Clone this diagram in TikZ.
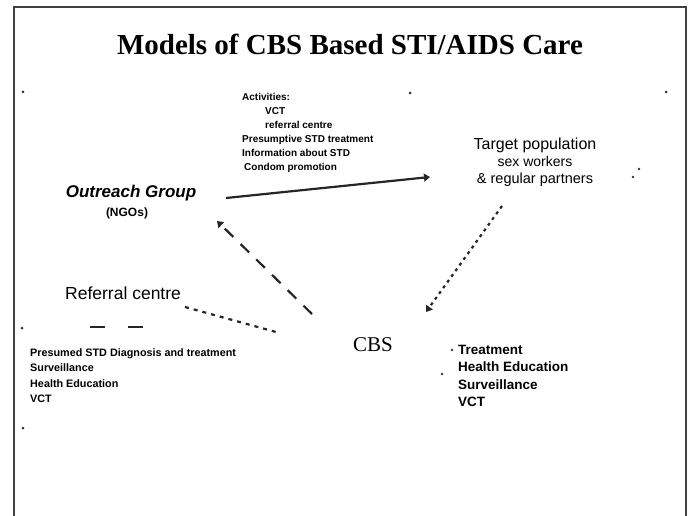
\documentclass[tikz,border=0pt]{standalone}
\usepackage{fontspec}
\setmainfont{Liberation Serif}
\setsansfont{Liberation Sans}
\usetikzlibrary{arrows.meta}
\begin{document}
\begin{tikzpicture}[x=1pt,y=-1pt,
  txt/.style={inner sep=0pt,anchor=base west,font=\sffamily},
  blk/.style={inner sep=0pt,anchor=north west,align=left,font=\sffamily\bfseries},
  conn/.style={line width=2.2pt,draw=black!85},
  tip/.style={-{Triangle[width=8pt,length=6pt]}},
  speck/.style={fill=black!80}]
\useasboundingbox (0,0) rectangle (689,516);
\draw[line width=1.8pt,black!75] (14,516) -- (14,7) -- (686,7) -- (686,516);
% title
\node[inner sep=0pt,anchor=base] (title) at (350,55)
  {\fontsize{29}{32}\selectfont\bfseries Models of CBS Based STI/AIDS Care};
% top activity block
\node[blk,font=\sffamily\bfseries\fontsize{10}{14}\selectfont] (acts) at (242,93)
  {Activities:\\
   \hspace{2.3em}VCT\\
   \hspace{2.3em}referral centre\\
   Presumptive STD treatment\\
   Information about STD\\
   \hspace{0.2em}Condom promotion};
% outreach group
\node[inner sep=0pt,anchor=base,font=\sffamily\bfseries\itshape\fontsize{17}{19}\selectfont] (outreach) at (131,198) {Outreach Group};
\node[inner sep=0pt,anchor=base,font=\sffamily\bfseries\fontsize{12}{14}\selectfont] (ngo) at (127,217) {(NGOs)};
% target population
\node[inner sep=0pt,anchor=north,align=center,font=\sffamily\fontsize{16}{17}\selectfont] (target) at (535,138)
  {Target population\\ \fontsize{14}{17}\selectfont sex workers\\ \fontsize{14.5}{17}\selectfont\& regular partners};
% referral centre
\node[txt,font=\sffamily\fontsize{17.5}{19}\selectfont] (referral) at (65,299) {Referral centre};
\coordinate (r1) at (90,327);
\coordinate (r2) at (145,327);
\draw[conn,dash pattern=on 15pt off 23pt] (r1) -- (r2);
% left block
\node[blk,font=\sffamily\bfseries\fontsize{10.8}{15.5}\selectfont] (left) at (30,348)
  {Presumed STD Diagnosis and treatment\\ Surveillance\\ Health Education\\ VCT};
% CBS
\node[inner sep=2pt,anchor=base,font=\fontsize{21}{24}\selectfont] (cbs) at (373,352) {CBS};
% right block
\node[blk,font=\sffamily\bfseries\fontsize{13.5}{17.5}\selectfont] (right) at (458,345)
  {Treatment\\ Health Education\\ Surveillance\\ VCT};
% connectors
\coordinate (o1) at (226,198);
\coordinate (t1) at (430,177);
\draw[conn,tip] (o1) -- (t1);
\coordinate (t2) at (502,206);
\coordinate (c1) at (426,312);
\draw[conn,tip,dash pattern=on 3pt off 4pt] (t2) -- (c1);
\coordinate (c2) at (312,314);
\coordinate (o2) at (217,221);
\draw[conn,tip,dash pattern=on 12pt off 10pt] (c2) -- (o2);
\coordinate (f1) at (185,307);
\coordinate (c3) at (276,332);
\draw[conn,dash pattern=on 4pt off 5pt] (f1) -- (c3);
% specks
\fill[speck] (23,92) circle (1.5pt) (410,93) circle (1.5pt) (666,92) circle (1.5pt)
  (639,169) circle (1.4pt) (633,177) circle (1.4pt) (22,328) circle (1.5pt)
  (23,428) circle (1.5pt) (442,374) circle (1.4pt) (452,350) circle (1.4pt);
\end{tikzpicture}
\end{document}
